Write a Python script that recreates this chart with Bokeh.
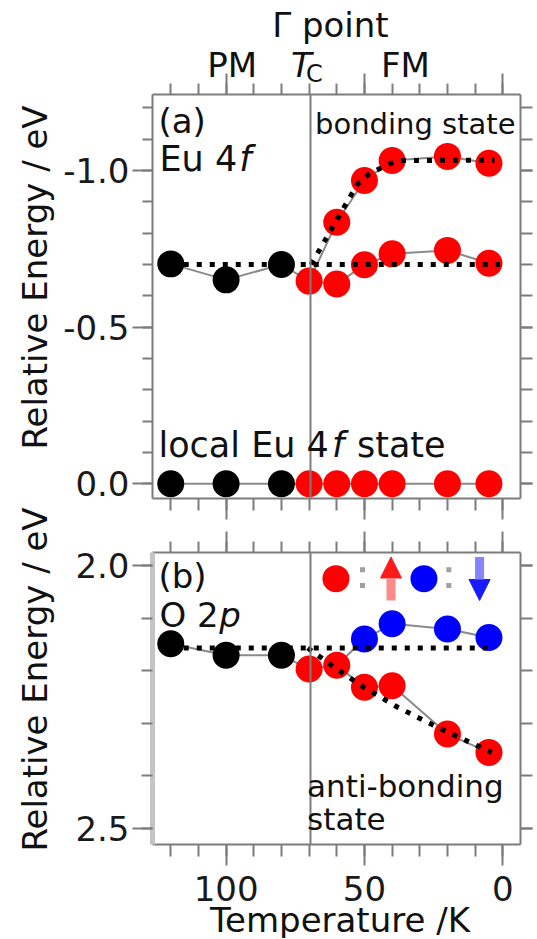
import math
from bokeh.plotting import figure
from bokeh.models import (Range1d, LinearAxis, SingleIntervalTicker, Span,
                          Arrow, NormalHead, PrintfTickFormatter)
from bokeh.core.properties import value
from bokeh.layouts import column, row
from bokeh.embed import file_html
from bokeh.resources import INLINE

# ---------------- data ----------------
T_PM = [120, 100, 80]
T_FM = [70, 60, 50, 40, 20, 5]
T_BOND = [70, 60, 50, 40, 20, 5]
T_DOWN = [60, 50, 40, 20, 5]
TC = 69.5

# panel (a): Eu 4f
a_pm = [-0.702, -0.651, -0.700]
a_fm = [-0.647, -0.638, -0.699, -0.734, -0.745, -0.704]
a_bond = [-0.647, -0.835, -0.968, -1.032, -1.045, -1.023]
a_local_pm = [0.0, 0.0, 0.0]
a_local_fm = [0.0, 0.0, 0.0, 0.0, 0.0, 0.0]
a_guide_flat_T = [120, 1]
a_guide_flat_E = [-0.700, -0.700]
a_guide_T = [69.3, 52.5, 48.3, 44.7, 41.1, 36.9, 3]
a_guide_E = [-0.700, -0.957, -0.989, -1.005, -1.021, -1.032, -1.033]

# panel (b): O 2p
b_pm = [2.149, 2.171, 2.171]
b_up = [2.197, 2.190, 2.232, 2.229, 2.321, 2.356]
b_down_line = [2.190, 2.140, 2.111, 2.121, 2.137]
b_guide_flat_T = [120, 3]
b_guide_flat_E = [2.157, 2.157]
b_guide_T = [70.5, 60.9, 50.2, 38, 21.3, 4]
b_guide_E = [2.157, 2.194, 2.232, 2.270, 2.314, 2.356]

# legend of panel (b)
leg_dot_T = [60.3, 28.5]
leg_dot_E = [2.025, 2.025]
leg_colon_T = [50.7, 50.7, 19.5, 19.5]
leg_colon_E = [2.008, 2.038, 2.008, 2.038]
leg_arrow_T = [40.4, 8.4]

# axis ranges
X_LEFT, X_RIGHT = 126.6, -6.4
YA_TOP, YA_BOT = -1.2426, 0.0469
YB_TOP, YB_BOT = 1.9752, 2.5314

# ---------------- layout helpers ----------------
FONT = "DejaVu Sans"
GRAY = "#7c7c7c"
LINE_GRAY = "#8a8a8a"
TEXT = "#111111"
LW = 60                     # width of the strip holding the vertical axis titles
W = 537 - LW
FL, FR = 151, 520           # frame left/right on the page
A_TOP, A_BOT = 94, 498      # frame (a) top/bottom on the page
B_TOP, B_BOT = 552, 844     # frame (b) top/bottom on the page
HA = 522
HB = 416
H = HA + HB
BASE_SHIFT = 12             # rendered baseline sits this much below the given anchor


def ax_(px):
    return X_LEFT + (px - FL) / (FR - FL) * (X_RIGHT - X_LEFT)


def ay_(py):
    return YA_TOP + (py - A_TOP) / (A_BOT - A_TOP) * (YA_BOT - YA_TOP)


def by_(py):
    return YB_TOP + (py - B_TOP) / (B_BOT - B_TOP) * (YB_BOT - YB_TOP)


def style_axis(axis, major_out, minor_out, labels=True, line_color=GRAY, line_width=2):
    axis.axis_line_color = line_color
    axis.axis_line_width = line_width
    axis.major_tick_line_color = GRAY
    axis.major_tick_line_width = 2
    axis.minor_tick_line_color = GRAY
    axis.minor_tick_line_width = 2
    axis.major_tick_in = 0
    axis.minor_tick_in = 0
    axis.major_tick_out = major_out
    axis.minor_tick_out = minor_out
    if labels:
        axis.major_label_text_font = FONT
        axis.major_label_text_font_size = "34px"
        axis.major_label_text_color = "#1a1a1a"
    else:
        axis.major_label_text_font_size = "1px"
        axis.major_label_text_color = None
        axis.major_label_standoff = 0


def page_text(p, px, py, top, bot, yconv, text, size=34, style="normal", align="left"):
    """Text whose baseline starts at page pixel (px, py); anchored inside the frame."""
    py = py - BASE_SHIFT
    fx = min(max(px, FL + 3), FR - 3)
    fy = min(max(py, top + 3), bot - 3)
    p.text(x=[ax_(fx)], y=[yconv(fy)], text=[text], x_offset=px - fx, y_offset=py - fy,
           text_font=value(FONT), text_font_size=value(f"{size}px"),
           text_font_style=value(style), text_align=value(align),
           text_baseline=value("alphabetic"), text_color=TEXT, level="overlay")


def make_fig(height, ytop, ybot, border_top, border_bottom):
    p = figure(width=W, height=height, output_backend="svg", toolbar_location=None,
               x_range=Range1d(X_LEFT, X_RIGHT), y_range=Range1d(ybot, ytop),
               min_border_left=FL - LW, min_border_right=LW + W - FR,
               min_border_top=border_top, min_border_bottom=border_bottom)
    p.outline_line_color = None
    p.grid.visible = False
    p.background_fill_color = "white"
    p.border_fill_color = "white"
    p.below[0].ticker = SingleIntervalTicker(interval=50, num_minor_ticks=5)
    p.left[0].ticker = SingleIntervalTicker(interval=0.5, num_minor_ticks=5)
    top = LinearAxis(ticker=SingleIntervalTicker(interval=50, num_minor_ticks=5))
    right = LinearAxis(ticker=SingleIntervalTicker(interval=0.5, num_minor_ticks=5))
    p.add_layout(top, "above")
    p.add_layout(right, "right")
    style_axis(top, 21, 11, labels=False)
    style_axis(right, 12, 12, labels=False)
    p.add_layout(Span(location=TC, dimension="height", line_color=GRAY, line_width=2))
    return p


# ---------------- strip with the two vertical axis titles ----------------
pl = figure(width=LW, height=H, output_backend="svg", toolbar_location=None,
            x_range=Range1d(0, LW), y_range=Range1d(H, 0),
            min_border=0, min_border_left=0, min_border_right=0,
            min_border_top=0, min_border_bottom=0)
pl.axis.visible = False
pl.grid.visible = False
pl.outline_line_color = None
pl.background_fill_color = "white"
pl.border_fill_color = "white"
YTITLE_X = [47 - BASE_SHIFT - 1, 47 - BASE_SHIFT - 1]
YTITLE_Y = [277, 679]
pl.text(x=YTITLE_X, y=YTITLE_Y, text=["Relative Energy / eV", "Relative Energy / eV"],
        angle=math.pi / 2, text_font=value(FONT), text_font_size=value("34px"),
        text_align=value("center"), text_baseline=value("alphabetic"), text_color=TEXT)

# ---------------- panel (a) ----------------
pa = make_fig(HA, YA_TOP, YA_BOT, A_TOP, HA - A_BOT)
style_axis(pa.below[0], 21, 12, labels=False)
style_axis(pa.left[0], 20, 10, labels=True)
pa.left[0].major_label_standoff = 3
pa.left[0].formatter = PrintfTickFormatter(format="%.1f")

# thin connecting lines
pa.line(T_PM + T_FM, a_pm + a_fm, line_color=LINE_GRAY, line_width=2)
pa.line(T_BOND, a_bond, line_color=LINE_GRAY, line_width=2)
pa.line(T_PM + T_FM, a_local_pm + a_local_fm, line_color=LINE_GRAY, line_width=2)
# points
pa.scatter(T_PM, a_pm, size=27, color="black", line_color=None)
pa.scatter(T_FM, a_fm, size=27, color="red", line_color=None)
pa.scatter(T_BOND[1:], a_bond[1:], size=27, color="red", line_color=None)
pa.scatter(T_PM, a_local_pm, size=27, color="black", line_color=None)
pa.scatter(T_FM, a_local_fm, size=27, color="red", line_color=None)
# dotted guides
pa.line(a_guide_flat_T, a_guide_flat_E, line_color="black", line_width=5, line_dash="5 8")
pa.line(a_guide_T, a_guide_E, line_color="black", line_width=5, line_dash="5 8")


def ta(px, py, text, **kw):
    page_text(pa, px, py, A_TOP, A_BOT, ay_, text, **kw)


def tb(px, py, text, **kw):
    page_text(pb, px, py - HA, B_TOP - HA, B_BOT - HA, lambda v: by_(v + HA), text, **kw)


# texts of panel (a)
ta(271, 36, "\u0393 point")
ta(206, 76, "PM")
ta(290, 76, "T", style="italic")
ta(305, 85, "C", size=24)
ta(380, 76, "FM")
ta(157, 132, "(a)")
ta(158, 170, "Eu 4", size=35)
ta(238, 170, "f", size=35, style="italic")
ta(314, 135, "bonding state", size=29)
ta(157, 456.5, "local Eu 4", size=35)
ta(331, 456.5, "f", size=35, style="italic")
ta(356, 456.5, "state", size=35)

# ---------------- panel (b) ----------------
pb = make_fig(HB, YB_TOP, YB_BOT, B_TOP - HA, (HA + HB) - B_BOT)
style_axis(pb.below[0], 21, 12, labels=True)
pb.below[0].major_label_standoff = 10
style_axis(pb.left[0], 20, 11, labels=True, line_color="#c4c4c4", line_width=5)
pb.left[0].major_label_standoff = 3
pb.left[0].formatter = PrintfTickFormatter(format="%.1f")

pb.line(T_PM + T_FM, b_pm + b_up, line_color=LINE_GRAY, line_width=2)
pb.line(T_DOWN, b_down_line, line_color=LINE_GRAY, line_width=2)
pb.scatter(T_PM, b_pm, size=27, color="black", line_color=None)
pb.scatter(T_FM, b_up, size=27, color="red", line_color=None)
pb.scatter(T_DOWN[1:], b_down_line[1:], size=27, color="blue", line_color=None)
pb.line(b_guide_flat_T, b_guide_flat_E, line_color="black", line_width=5, line_dash="5 8")
pb.line(b_guide_T, b_guide_E, line_color="black", line_width=5, line_dash="5 8")

# legend: dots, colons and spin arrows
pb.scatter(leg_dot_T[:1], leg_dot_E[:1], size=27, color="red", line_color=None)
pb.scatter(leg_dot_T[1:], leg_dot_E[1:], size=27, color="blue", line_color=None)
pb.scatter(leg_colon_T, leg_colon_E, marker="square", size=5, color="#a0a0a0", line_color=None)
pb.add_layout(Arrow(x_start=leg_arrow_T[0], y_start=by_(600), x_end=leg_arrow_T[0], y_end=by_(556.5),
                    line_color="#ff8a8a", line_width=9,
                    end=NormalHead(size=21, fill_color="#ff1a1a", line_color="#ff1a1a", line_width=1)))
pb.add_layout(Arrow(x_start=leg_arrow_T[1], y_start=by_(556.5), x_end=leg_arrow_T[1], y_end=by_(600),
                    line_color="#8484ff", line_width=9,
                    end=NormalHead(size=21, fill_color="#1a1aff", line_color="#1a1aff", line_width=1)))

tb(157, 587, "(b)")
tb(158, 626.5, "O 2")
tb(218, 626.5, "p", style="italic")
tb(306, 797, "anti-bonding", size=31)
tb(306, 830, "state", size=31)
tb(339, 931, "Temperature /K", align="center")

layout = row(pl, column(pa, pb, spacing=0), spacing=0)
open("out.html", "w").write(file_html(layout, INLINE))
